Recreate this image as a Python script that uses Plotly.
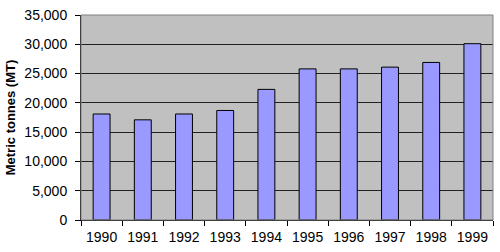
import plotly.graph_objects as go

years = ["1990", "1991", "1992", "1993", "1994", "1995", "1996", "1997", "1998", "1999"]
tonnes = [18100, 17100, 18100, 18700, 22300, 25800, 25800, 26100, 26900, 30100]
y_ticks = [0, 5000, 10000, 15000, 20000, 25000, 30000, 35000]

font_family = "Liberation Sans, Arial, sans-serif"

fig = go.Figure(
    go.Bar(
        x=years,
        y=tonnes,
        width=0.41,
        marker=dict(color="#9999FF", line=dict(color="#000000", width=1)),
    )
)

fig.update_layout(
    width=500,
    height=252,
    margin=dict(l=81, r=7, t=11, b=30),
    paper_bgcolor="white",
    plot_bgcolor="#C0C0C0",
    showlegend=False,
    font=dict(family=font_family, size=14, color="#000000"),
    shapes=[
        dict(type="rect", xref="paper", yref="paper", x0=0, y0=0, x1=1, y1=1,
             line=dict(color="#808080", width=1), fillcolor="rgba(0,0,0,0)", layer="above"),
    ],
)

fig.update_xaxes(
    type="category",
    tickson="boundaries",
    ticks="outside",
    ticklen=5,
    tickcolor="#000000",
    ticklabelstandoff=4,
    showgrid=False,
    showline=True,
    linecolor="#000000",
    linewidth=1,
    tickfont=dict(size=14),
)

fig.update_yaxes(
    range=[0, 35000],
    tickvals=y_ticks,
    tickformat=",d",
    ticks="outside",
    ticklen=5,
    tickcolor="#000000",
    ticklabelstandoff=5,
    showgrid=True,
    gridcolor="#202020",
    gridwidth=1,
    showline=True,
    linecolor="#000000",
    linewidth=1,
    zeroline=False,
    tickfont=dict(size=14),
    title=dict(text="<b>Metric tonnes (MT)</b>", font=dict(size=13), standoff=5),
)

fig.write_html("out.html")
